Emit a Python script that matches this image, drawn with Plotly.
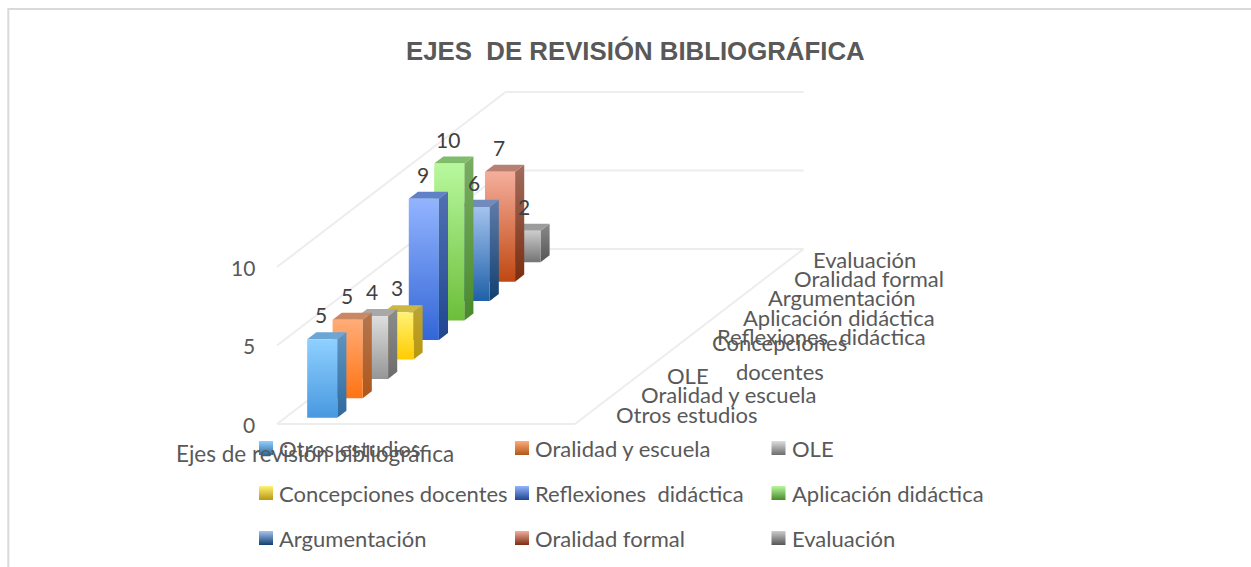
import plotly.graph_objects as go

# ---------- data ----------
categories = ["Otros estudios", "Oralidad y escuela", "OLE", "Concepciones docentes",
              "Reflexiones  didáctica", "Aplicación didáctica", "Argumentación",
              "Oralidad formal", "Evaluación"]
values = [5, 5, 4, 3, 9, 10, 6, 7, 2]
value_ticks = [0, 5, 10]
title_text = "EJES  DE REVISIÓN BIBLIOGRÁFICA"
axis_title = "Ejes de revisión bibliográfica"

# front top, front bottom, side top, side bottom, cap
palette = [
    ("#8FD0FF", "#4898E0", "#5E94C2", "#2F6A9E", "#6CA6D4"),
    ("#FFAC78", "#FF7312", "#B4764E", "#B0561A", "#C98862"),
    ("#DEDEDE", "#969696", "#8C8C8C", "#6C6C6C", "#A8A8A8"),
    ("#FFF274", "#FFCC00", "#BCA434", "#B89810", "#CCB840"),
    ("#93B4FF", "#3366D6", "#5270B4", "#1F4690", "#6080C8"),
    ("#B8F89E", "#6CBE3A", "#7AAE62", "#4A8A2A", "#80BC6A"),
    ("#A4C3EF", "#1F60A8", "#5F7CAA", "#10406F", "#6F8CBC"),
    ("#F5AE9C", "#C04812", "#A26C5E", "#7A2E10", "#B88070"),
    ("#CCCCCC", "#747474", "#8A8A8A", "#555555", "#9C9C9C"),
]

# ---------- oblique projection (chart units -> page coordinates) ----------
ORIGIN_X, ORIGIN_Y = 277.0, 424.0
FLOOR_W = 298.0
DEPTH_DX, DEPTH_DY = 25.4, 19.45
UNIT_H = 15.7
N = len(categories)
BAR_X0, BAR_X1 = 0.074, 0.175
BAR_D0, BAR_D1 = 0.32, 0.68

TEXT = "#595959"
FONT = "Lato"
GRID = "#EDEDED"


def P(x, d, v):
    return ORIGIN_X + FLOOR_W * x + DEPTH_DX * d, ORIGIN_Y - DEPTH_DY * d - UNIT_H * v


def xy(points):
    pts = [P(*p) for p in points]
    pts.append(pts[0])
    return [p[0] for p in pts], [p[1] for p in pts]


def line(fig, a, b, color=GRID, width=2):
    pa, pb = P(*a), P(*b)
    fig.add_trace(go.Scatter(x=[pa[0], pb[0]], y=[pa[1], pb[1]], mode="lines",
                             line=dict(color=color, width=width),
                             hoverinfo="skip", showlegend=False))


def face(fig, points, top, bottom=None, name=None):
    x, y = xy(points)
    kw = dict(fillcolor=top)
    if bottom is not None:
        # y axis runs downward, so the colorscale starts at the lower edge of the face
        kw = dict(fillgradient=dict(type="vertical",
                                    colorscale=[[0, bottom], [1, top]]))
    fig.add_trace(go.Scatter(x=x, y=y, mode="lines", fill="toself",
                             line=dict(width=0), hoverinfo="skip",
                             name=name, showlegend=False, **kw))


fig = go.Figure()

# frame of the chart area (clipped by the page on right and bottom)
fig.add_trace(go.Scatter(x=[8.3, 8.3, 1251], y=[567, 8.9, 8.9], mode="lines",
                         line=dict(color="#D9D9D9", width=2),
                         hoverinfo="skip", showlegend=False))

# walls and floor gridlines
for v in value_ticks:
    line(fig, (0, 0, v), (0, N, v))
    line(fig, (0, N, v), (1, N, v))
line(fig, (0, 0, 0), (1, 0, 0))
line(fig, (1, 0, 0), (1, N, 0))

# bars, farthest first
for i in reversed(range(N)):
    v = values[i]
    ft, fb, st, sb, cap = palette[i]
    d0, d1 = i + BAR_D0, i + BAR_D1
    face(fig, [(BAR_X1, d0, 0), (BAR_X1, d1, 0), (BAR_X1, d1, v), (BAR_X1, d0, v)], st, sb)
    face(fig, [(BAR_X0, d0, v), (BAR_X1, d0, v), (BAR_X1, d1, v), (BAR_X0, d1, v)], cap)
    face(fig, [(BAR_X0, d0, 0), (BAR_X1, d0, 0), (BAR_X1, d0, v), (BAR_X0, d0, v)], ft, fb,
         name=categories[i])

annotations = []


def label(x, y, text, size=22, anchor="left", color=TEXT, family=FONT, bold=False):
    text = text.replace("  ", "\u00a0\u00a0")
    annotations.append(dict(x=x, y=y, xref="x", yref="y", text=f"<b>{text}</b>" if bold else text,
                            showarrow=False, xanchor=anchor, yanchor="middle",
                            font=dict(family=family, size=size, color=color),
                            borderpad=0, borderwidth=0))


# title
label(635, 50, title_text, size=25.8, anchor="center", family="Liberation Sans", bold=True)

# value axis tick labels
for v in value_ticks:
    px, py = P(0, 0, v)
    label(px - 22, py, str(v), anchor="right", size=21)

# data labels above the bars
for i, v in enumerate(values):
    px, py = P((BAR_X0 + BAR_X1) / 2, i + BAR_D0, v)
    label(px - 1, py - 24.5, str(v), anchor="center", size=21, color="#404040")

# depth-axis labels
for i, name in enumerate(categories):
    px, py = P(1, i + 0.5, 0)
    if name == "Concepciones docentes":
        first, second = name.split(" ")
        label(px + 116, py - 13, first, anchor="center")
        label(px + 116, py + 15.5, second, anchor="center")
    elif name == "Evaluación":
        label(px + 22, py + 0.5, name)
    else:
        label(px + 28, py, name)

# category-axis title
label(314.5, 453, axis_title, size=22.5, anchor="center")

# hand-laid legend in three columns and three rows
col_x = [266, 522, 778.5]
row_y = [448, 493, 538]
for i, name in enumerate(categories):
    sx, sy = col_x[i % 3], row_y[i // 3]
    ft, fb, st, sb, cap = palette[i]
    fig.add_trace(go.Scatter(x=[sx], y=[sy], mode="markers",
                             marker=dict(symbol="square", size=14, color=ft,
                                         gradient=dict(type="vertical", color=sb),
                                         line=dict(width=0)),
                             hoverinfo="skip", showlegend=False))
    label(sx + 13, sy, name)

fig.update_layout(
    width=1251, height=567,
    margin=dict(l=0, r=0, t=0, b=0),
    paper_bgcolor="white", plot_bgcolor="white",
    showlegend=False,
    annotations=annotations,
    xaxis=dict(range=[0, 1251], visible=False, fixedrange=True),
    yaxis=dict(range=[567, 0], visible=False, fixedrange=True),
)

fig.write_html("out.html", config={"displayModeBar": False},
               post_script="document.documentElement.style.overflow='hidden';document.body.style.margin='0';")
